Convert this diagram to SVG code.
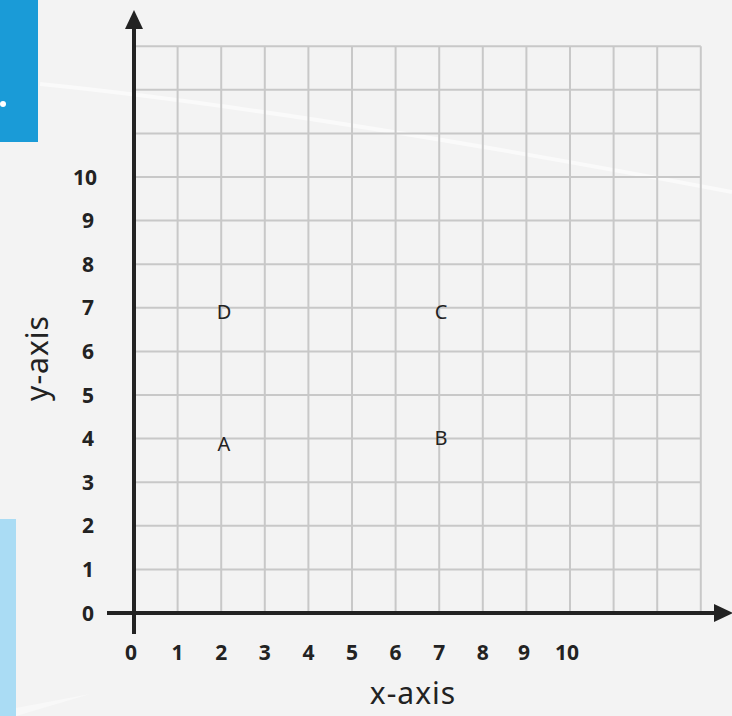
<svg xmlns="http://www.w3.org/2000/svg" width="732" height="716" viewBox="0 0 732 716">
<style>
.grid line{stroke:#c8c8c8;stroke-width:2}
.axis{stroke:#222;stroke-width:4;fill:none}
.num{font-family:"Noto Sans","Open Sans",sans-serif;font-weight:bold;font-size:21px;fill:#222;text-anchor:middle}
.pt{font-family:"Noto Sans","DejaVu Sans",sans-serif;font-size:20px;fill:#222;text-anchor:middle}
.lbl{font-family:"Noto Sans","Open Sans",sans-serif;font-size:30px;fill:#222;text-anchor:middle;letter-spacing:1px}
</style>
<rect width="732" height="716" fill="#f3f3f3"/>
<path d="M40,84 Q300,110 732,192" stroke="#fff" stroke-width="4" fill="none" opacity="0.55"/>
<path d="M16,708 L90,694 L16,716 z" fill="#f8f8f8"/>
<rect x="0" y="0" width="38" height="142" fill="#1a9bd7"/>
<circle cx="3" cy="104" r="3" fill="#fff"/>
<rect x="0" y="519" width="16" height="197" fill="#aadcf4"/>
<g class="grid" id="grid">
<line x1="134" y1="46.2" x2="700.8" y2="46.2"/>
<line x1="134" y1="89.8" x2="700.8" y2="89.8"/>
<line x1="134" y1="133.4" x2="700.8" y2="133.4"/>
<line x1="134" y1="177" x2="700.8" y2="177"/>
<line x1="134" y1="220.6" x2="700.8" y2="220.6"/>
<line x1="134" y1="264.2" x2="700.8" y2="264.2"/>
<line x1="134" y1="307.8" x2="700.8" y2="307.8"/>
<line x1="134" y1="351.4" x2="700.8" y2="351.4"/>
<line x1="134" y1="395" x2="700.8" y2="395"/>
<line x1="134" y1="438.6" x2="700.8" y2="438.6"/>
<line x1="134" y1="482.2" x2="700.8" y2="482.2"/>
<line x1="134" y1="525.8" x2="700.8" y2="525.8"/>
<line x1="134" y1="569.4" x2="700.8" y2="569.4"/>
<line x1="177.6" y1="46.2" x2="177.6" y2="613"/>
<line x1="221.2" y1="46.2" x2="221.2" y2="613"/>
<line x1="264.8" y1="46.2" x2="264.8" y2="613"/>
<line x1="308.4" y1="46.2" x2="308.4" y2="613"/>
<line x1="352" y1="46.2" x2="352" y2="613"/>
<line x1="395.6" y1="46.2" x2="395.6" y2="613"/>
<line x1="439.2" y1="46.2" x2="439.2" y2="613"/>
<line x1="482.8" y1="46.2" x2="482.8" y2="613"/>
<line x1="526.4" y1="46.2" x2="526.4" y2="613"/>
<line x1="570" y1="46.2" x2="570" y2="613"/>
<line x1="613.6" y1="46.2" x2="613.6" y2="613"/>
<line x1="657.2" y1="46.2" x2="657.2" y2="613"/>
<line x1="700.8" y1="46.2" x2="700.8" y2="613"/>
</g>
<g id="connectors">
<line class="axis" x1="134" y1="634" x2="134" y2="28"/>
<path d="M134,10 L143,29 L125,29 z" fill="#222"/>
<line class="axis" x1="107" y1="613" x2="714" y2="613"/>
<path d="M733,613 L714,604 L714,622 z" fill="#222"/>
</g>
<g id="y-labels">
<text class="num" x="88" y="620.5">0</text>
<text class="num" x="88" y="576.9">1</text>
<text class="num" x="88" y="533.3">2</text>
<text class="num" x="88" y="489.7">3</text>
<text class="num" x="88" y="446.1">4</text>
<text class="num" x="88" y="402.5">5</text>
<text class="num" x="88" y="358.9">6</text>
<text class="num" x="88" y="315.3">7</text>
<text class="num" x="88" y="271.7">8</text>
<text class="num" x="88" y="228.1">9</text>
<text class="num" x="85" y="184.5">10</text>
</g>
<g id="x-labels">
<text class="num" x="131" y="660">0</text>
<text class="num" x="177.6" y="660">1</text>
<text class="num" x="221.2" y="660">2</text>
<text class="num" x="264.8" y="660">3</text>
<text class="num" x="308.4" y="660">4</text>
<text class="num" x="352" y="660">5</text>
<text class="num" x="395.6" y="660">6</text>
<text class="num" x="439.2" y="660">7</text>
<text class="num" x="482.8" y="660">8</text>
<text class="num" x="524" y="660">9</text>
<text class="num" x="567" y="660">10</text>
</g>
<g id="point-D"><text class="pt" x="224" y="319">D</text></g>
<g id="point-C"><text class="pt" x="441" y="319">C</text></g>
<g id="point-A"><text class="pt" x="224" y="451">A</text></g>
<g id="point-B"><text class="pt" x="441" y="445">B</text></g>
<text class="lbl" x="413" y="704">x-axis</text>
<text class="lbl" transform="translate(48,358) rotate(-90)">y-axis</text>
</svg>
